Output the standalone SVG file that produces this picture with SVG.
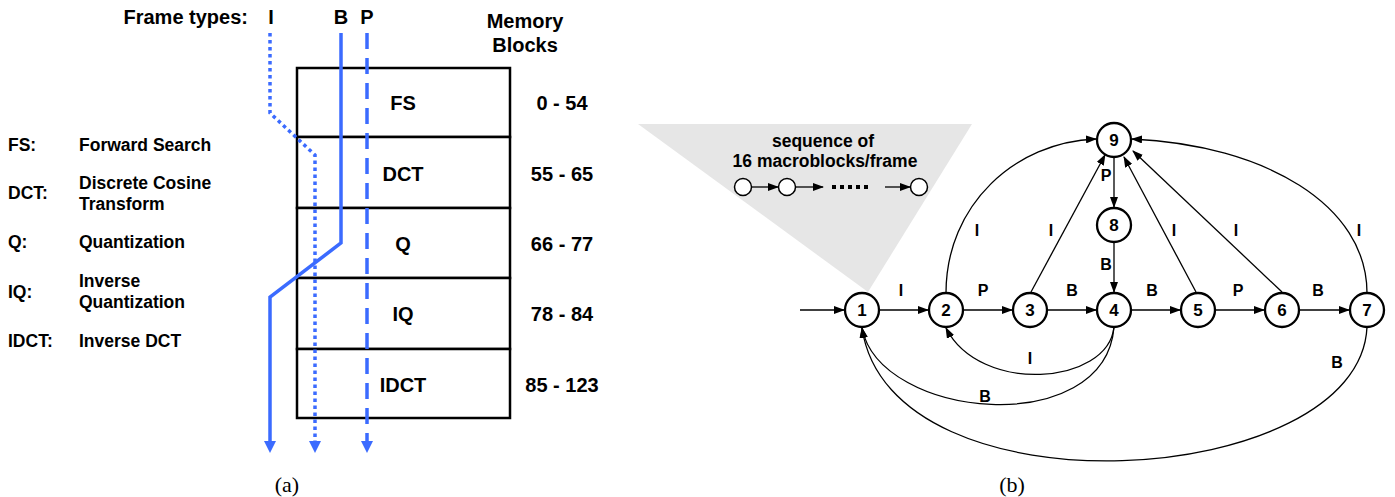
<svg xmlns="http://www.w3.org/2000/svg" width="1395" height="497" viewBox="0 0 1395 497">
<style>
text{font-family:"Liberation Sans",Arial,sans-serif;font-weight:bold;fill:#000}
.hdr{font-size:20px}
.leg{font-size:17.5px}
.box{font-size:20px;text-anchor:middle}
.num{font-size:20px;text-anchor:middle}
.blk{fill:#fff;stroke:#000;stroke-width:2.5}
.blue{fill:none;stroke:#3b6bff;stroke-width:3.5}
.bhead{fill:#3b6bff}
.node circle{fill:#fff;stroke:#000;stroke-width:2.3}
.node text{font-size:17px;text-anchor:middle}
.edge{fill:none;stroke:#000;stroke-width:1.3;marker-end:url(#ah)}
.lbl{font-size:16px;text-anchor:middle}
.cap{font-family:"Liberation Serif","Times New Roman",serif;font-weight:normal;font-size:22px;text-anchor:middle}
.sm{fill:#fff;stroke:#000;stroke-width:1.5}
</style>
<defs>
<marker id="ah" markerUnits="userSpaceOnUse" markerWidth="11" markerHeight="8" refX="10" refY="4" orient="auto">
<path d="M0,0 L11,4 L0,8 z" fill="#000"/>
</marker>
</defs>

<!-- Panel (a) -->
<g id="header">
<text class="hdr" x="248" y="24" text-anchor="end">Frame types:</text>
<text class="hdr" x="271" y="24" text-anchor="middle">I</text>
<text class="hdr" x="341" y="24" text-anchor="middle">B</text>
<text class="hdr" x="367" y="24" text-anchor="middle">P</text>
<text class="hdr" x="525" y="28" text-anchor="middle">Memory</text>
<text class="hdr" x="525" y="52" text-anchor="middle">Blocks</text>
</g>

<g id="legend">
<text class="leg" x="8" y="151">FS:</text>
<text class="leg" x="79" y="151">Forward Search</text>
<text class="leg" x="8" y="199">DCT:</text>
<text class="leg" x="79" y="189">Discrete Cosine</text>
<text class="leg" x="79" y="210">Transform</text>
<text class="leg" x="8" y="248">Q:</text>
<text class="leg" x="79" y="248">Quantization</text>
<text class="leg" x="8" y="298">IQ:</text>
<text class="leg" x="79" y="287">Inverse</text>
<text class="leg" x="79" y="308">Quantization</text>
<text class="leg" x="8" y="347">IDCT:</text>
<text class="leg" x="79" y="347">Inverse DCT</text>
</g>

<g id="block-FS">
<rect class="blk" x="297" y="68" width="213" height="69"/>
<text class="box" x="403" y="110">FS</text>
<text class="num" x="562" y="110">0 - 54</text>
</g>
<g id="block-DCT">
<rect class="blk" x="297" y="137" width="213" height="71"/>
<text class="box" x="403" y="181">DCT</text>
<text class="num" x="562" y="181">55 - 65</text>
</g>
<g id="block-Q">
<rect class="blk" x="297" y="208" width="213" height="70"/>
<text class="box" x="403" y="251">Q</text>
<text class="num" x="562" y="251">66 - 77</text>
</g>
<g id="block-IQ">
<rect class="blk" x="297" y="278" width="213" height="71"/>
<text class="box" x="403" y="321">IQ</text>
<text class="num" x="562" y="321">78 - 84</text>
</g>
<g id="block-IDCT">
<rect class="blk" x="297" y="349" width="213" height="69"/>
<text class="box" x="403" y="392">IDCT</text>
<text class="num" x="562" y="392">85 - 123</text>
</g>

<g id="frame-paths">
<path class="blue" d="M270,33 V113 L315,155 V442" stroke-dasharray="3.5 3.5"/>
<polygon class="bhead" points="309,441 321,441 315,453"/>
<path class="blue" d="M341,33 V243 L270,297 V442" stroke-width="4"/>
<polygon class="bhead" points="264,441 276,441 270,453"/>
<path class="blue" d="M367,33 V442" stroke-dasharray="16 9"/>
<polygon class="bhead" points="361,441 373,441 367,453"/>
</g>

<text class="cap" x="287" y="492">(a)</text>

<!-- Panel (b) -->
<g id="inset">
<polygon points="638,124 972,124 868,292" fill="#e6e6e6"/>
<text class="leg" x="823" y="147" text-anchor="middle">sequence of</text>
<text class="leg" x="825" y="167" text-anchor="middle">16 macroblocks/frame</text>
<circle class="sm" cx="743" cy="187" r="8.5"/>
<circle class="sm" cx="787" cy="187" r="8.5"/>
<circle class="sm" cx="919" cy="187" r="8.5"/>
<path d="M751.5,187 H778" stroke="#000" stroke-width="1.3" marker-end="url(#ah)"/>
<path d="M795.5,187 H823" stroke="#000" stroke-width="1.3" marker-end="url(#ah)"/>
<path d="M832,187 H872" stroke="#000" stroke-width="4" stroke-dasharray="4 4"/>
<path d="M885,187 H910" stroke="#000" stroke-width="1.3" marker-end="url(#ah)"/>
</g>

<g id="connectors">
<path class="edge" d="M800,310 H844"/>
<path class="edge" d="M879,310 H928"/>
<path class="edge" d="M963,310 H1012"/>
<path class="edge" d="M1047,310 H1096"/>
<path class="edge" d="M1131,310 H1180"/>
<path class="edge" d="M1215,310 H1264"/>
<path class="edge" d="M1299,310 H1349"/>
<path class="edge" d="M1114,157 V207"/>
<path class="edge" d="M1114,242 V292"/>
<path class="edge" d="M946,293 C946,205 1015,142 1096,139"/>
<path class="edge" d="M1031,292 L1105,155"/>
<path class="edge" d="M1196,292 L1124,157"/>
<path class="edge" d="M1282,292 L1133,151"/>
<path class="edge" d="M1367,293 C1367,205 1265,145 1132,139"/>
<path class="edge" d="M1114,327 C1108,385 980,395 946,328"/>
<path class="edge" d="M1114,327 C1105,440 880,420 862,328"/>
<path class="edge" d="M1367,327 C1360,490 890,520 862,328"/>
<text class="lbl" x="901" y="296">I</text>
<text class="lbl" x="983" y="296">P</text>
<text class="lbl" x="1072" y="296">B</text>
<text class="lbl" x="1152" y="296">B</text>
<text class="lbl" x="1238" y="296">P</text>
<text class="lbl" x="1318" y="296">B</text>
<text class="lbl" x="1106" y="181">P</text>
<text class="lbl" x="1106" y="270">B</text>
<text class="lbl" x="977" y="236">I</text>
<text class="lbl" x="1051" y="236">I</text>
<text class="lbl" x="1174" y="236">I</text>
<text class="lbl" x="1236" y="236">I</text>
<text class="lbl" x="1359" y="236">I</text>
<text class="lbl" x="1030" y="364">I</text>
<text class="lbl" x="985" y="402">B</text>
<text class="lbl" x="1337" y="368">B</text>
</g>

<g id="n1" class="node"><circle cx="862" cy="310" r="17"/><text x="862" y="316">1</text></g>
<g id="n2" class="node"><circle cx="946" cy="310" r="17"/><text x="946" y="316">2</text></g>
<g id="n3" class="node"><circle cx="1030" cy="310" r="17"/><text x="1030" y="316">3</text></g>
<g id="n4" class="node"><circle cx="1114" cy="310" r="17"/><text x="1114" y="316">4</text></g>
<g id="n5" class="node"><circle cx="1198" cy="310" r="17"/><text x="1198" y="316">5</text></g>
<g id="n6" class="node"><circle cx="1282" cy="310" r="17"/><text x="1282" y="316">6</text></g>
<g id="n7" class="node"><circle cx="1367" cy="310" r="17"/><text x="1367" y="316">7</text></g>
<g id="n8" class="node"><circle cx="1114" cy="225" r="17"/><text x="1114" y="231">8</text></g>
<g id="n9" class="node"><circle cx="1114" cy="140" r="17"/><text x="1114" y="146">9</text></g>

<text class="cap" x="1012" y="492">(b)</text>
</svg>
